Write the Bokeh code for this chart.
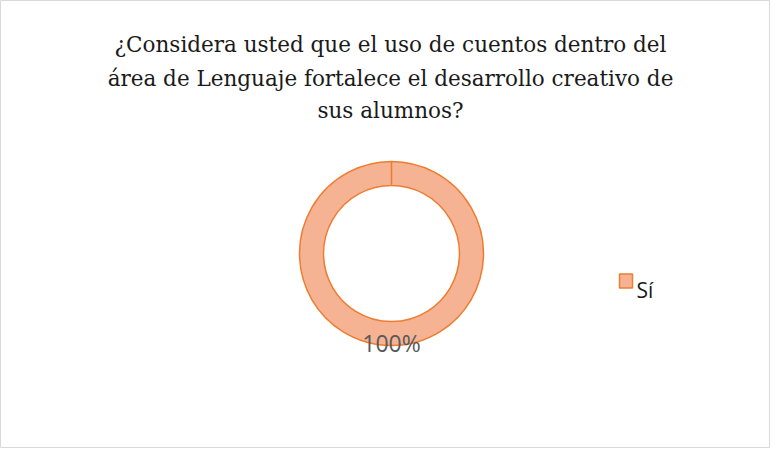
from math import pi
from bokeh.plotting import figure
from bokeh.models import Range1d
from bokeh.core.properties import value
from bokeh.embed import file_html
from bokeh.resources import INLINE

title_lines = [
    "¿Considera usted que el uso de cuentos dentro del",
    "área de Lenguaje fortalece el desarrollo creativo de",
    "sus alumnos?",
]
categories = ["Sí"]
values = [100]
labels = ["100%"]

W, H = 770, 448
p = figure(width=W, height=H, output_backend="svg", toolbar_location=None,
           x_range=Range1d(0, W), y_range=Range1d(H, 0),
           min_border=0, min_border_left=0, min_border_right=0,
           min_border_top=0, min_border_bottom=0)
p.axis.visible = False
p.grid.visible = False
p.outline_line_color = "#d9d9d9"
p.outline_line_width = 1
p.background_fill_color = "white"

# title
ty = [44, 78, 110]
for line, y in zip(title_lines, ty):
    p.text(x=[390], y=[y], text=[line], text_align="center", text_baseline="alphabetic",
           text_font=value("DejaVu Serif"), text_font_size="21.5px", text_color="#1a1a1a")

# donut
cx, cy = 391, 253
total = sum(values)
start = pi / 2
for v in values:
    span = 2 * pi * v / total
    p.annular_wedge(x=[cx], y=[cy], inner_radius=68, outer_radius=92,
                    start_angle=start, end_angle=start + span * 0.99999,
                    fill_color="#f6b393", line_color="#ed7d31", line_width=1.5)
    start += span

p.text(x=[cx], y=[342], text=labels, text_align="center", text_baseline="alphabetic",
       text_font=value("Open Sans"), text_font_size="23px", text_color="#595959")

# legend
p.rect(x=[625.5], y=[280.5], width=13, height=14, fill_color="#f6b393", line_color="#ed7d31", line_width=1.5)
p.text(x=[636], y=[289], text=categories, text_align="left", text_baseline="alphabetic",
       text_font=value("Open Sans"), text_font_size="21px", text_color="#1a1a1a")

open("out.html", "w").write(file_html(p, INLINE))
